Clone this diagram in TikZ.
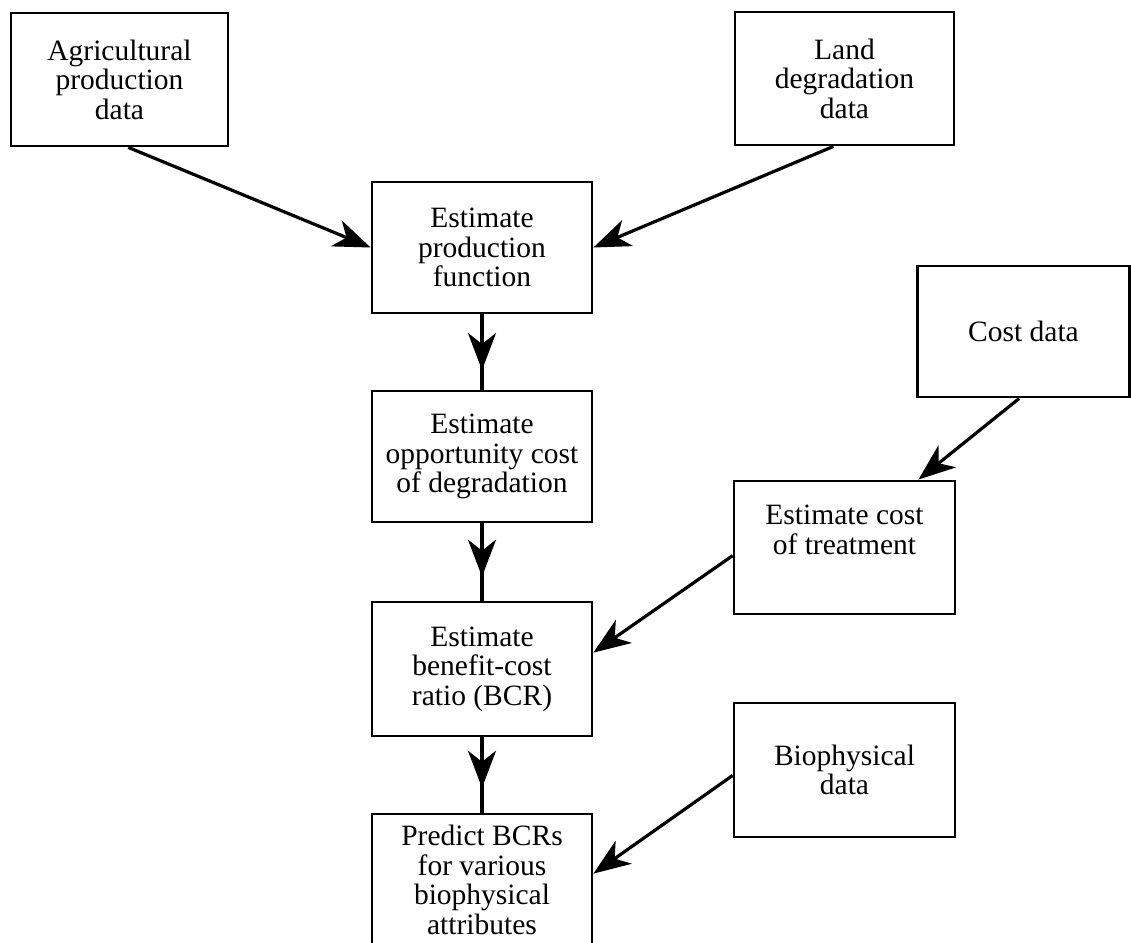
\documentclass[tikz,border=0pt]{standalone}
\usepackage{fontspec}
\setmainfont{Liberation Serif}
\usetikzlibrary{arrows.meta,calc}
\begin{document}
\begin{tikzpicture}[x=1pt,y=-1pt,
  box/.style={draw,line width=2.8pt,rectangle,inner sep=0pt,align=center,
    font=\fontsize{29.5}{29.5}\selectfont},
  conn/.style={line width=3.2pt},
  arr/.style={line width=3.2pt,-{Stealth[length=37pt,width=28pt,inset=11pt]}}]
\useasboundingbox (0,0) rectangle (1131,942);
\clip (0,0) rectangle (1131,942);

\node[box,minimum width=217pt,minimum height=133pt] (A) at (119.5,79.5) {Agricultural\\production\\data};
\node[box,minimum width=219pt,minimum height=133pt] (L) at (844.5,78.5) {Land\\degradation\\data};
\node[box,minimum width=220pt,minimum height=131pt] (P) at (482,247.5) {Estimate\\production\\function};
\node[box,minimum width=220pt,minimum height=131pt] (O) at (482,456.5) {Estimate\\opportunity cost\\of degradation};
\node[box,minimum width=220pt,minimum height=134pt] (B) at (482,669) {Estimate\\benefit-cost\\ratio (BCR)};
\node[box,minimum width=220pt,minimum height=132pt] (R) at (482,880) {Predict BCRs\\for various\\biophysical\\attributes};
\node[box,minimum width=212pt,minimum height=131pt] (C) at (1023.5,331.5) {Cost data};
\node[box,minimum width=221pt,minimum height=133pt] (T) at (844.5,547.5) {Estimate cost\\of treatment\\[6pt]};
\node[box,minimum width=221pt,minimum height=134pt] (Bio) at (844.5,770) {Biophysical\\data};

% inputs
\draw[arr] ($(A.south west)!0.54!(A.south east)$) -- (P.west);
\draw[arr] ($(L.south west)!0.45!(L.south east)$) -- (P.east);
\draw[arr] ($(C.south west)!0.48!(C.south east)$) -- ($(T.north west)!0.83!(T.north east)$);
\draw[arr] ($(T.north west)!0.56!(T.south west)$) -- ($(B.north east)!0.38!(B.south east)$);
\draw[arr] ($(Bio.north west)!0.54!(Bio.south west)$) -- ($(R.north east)+(0,61)$);

% main chain with mid arrows
\draw[conn] (P.south) -- (O.north);
\draw[arr] (P.south) -- ($(P.south)!0.74!(O.north)$);
\draw[conn] (O.south) -- (B.north);
\draw[arr] (O.south) -- ($(O.south)!0.69!(B.north)$);
\draw[conn] (B.south) -- (R.north);
\draw[arr] (B.south) -- ($(B.south)!0.67!(R.north)$);
\end{tikzpicture}
\end{document}
